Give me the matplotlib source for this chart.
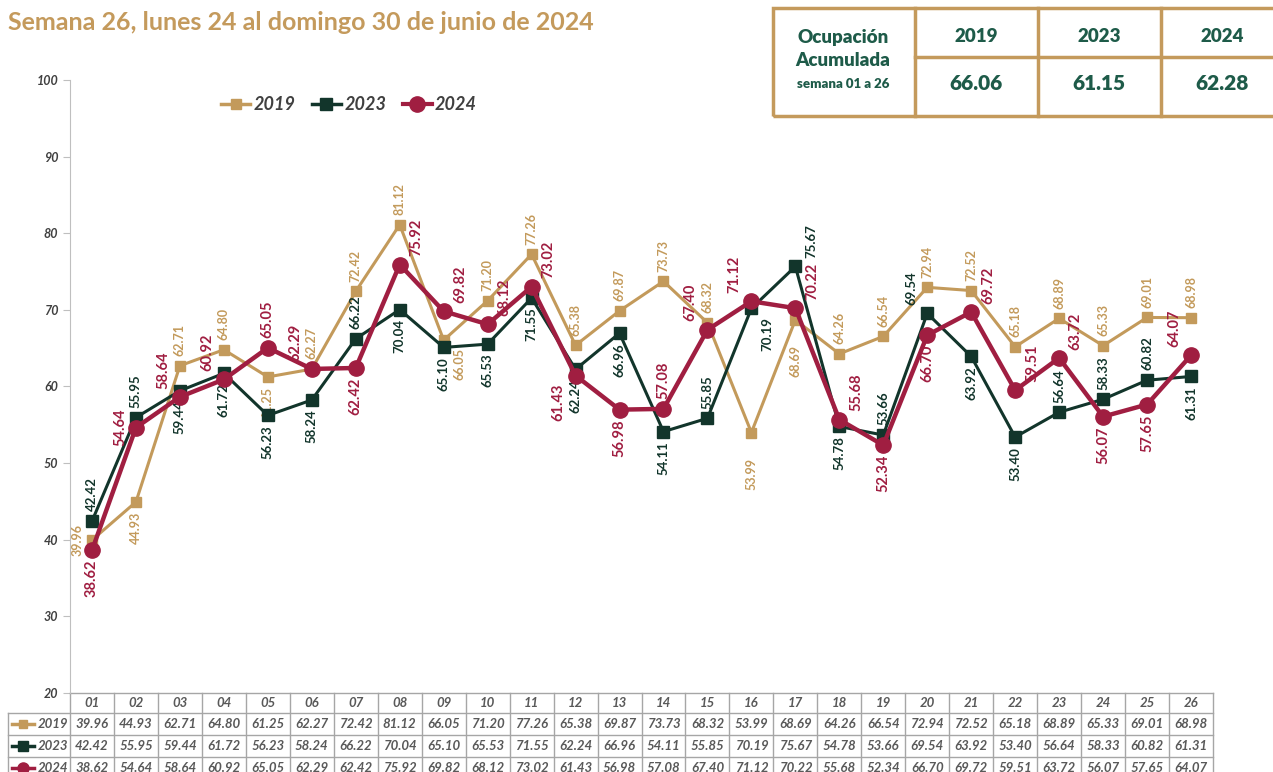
import numpy as np
import matplotlib.pyplot as plt
from matplotlib.lines import Line2D
from matplotlib.patches import Rectangle

plt.rcParams['font.family'] = ['Lato', 'DejaVu Sans']

# datos
semanas = ['01', '02', '03', '04', '05', '06', '07', '08', '09', '10', '11', '12', '13',
           '14', '15', '16', '17', '18', '19', '20', '21', '22', '23', '24', '25', '26']
ocup_2019 = [39.96, 44.93, 62.71, 64.80, 61.25, 62.27, 72.42, 81.12, 66.05, 71.20, 77.26, 65.38, 69.87,
             73.73, 68.32, 53.99, 68.69, 64.26, 66.54, 72.94, 72.52, 65.18, 68.89, 65.33, 69.01, 68.98]
ocup_2023 = [42.42, 55.95, 59.44, 61.72, 56.23, 58.24, 66.22, 70.04, 65.10, 65.53, 71.55, 62.24, 66.96,
             54.11, 55.85, 70.19, 75.67, 54.78, 53.66, 69.54, 63.92, 53.40, 56.64, 58.33, 60.82, 61.31]
ocup_2024 = [38.62, 54.64, 58.64, 60.92, 65.05, 62.29, 62.42, 75.92, 69.82, 68.12, 73.02, 61.43, 56.98,
             57.08, 67.40, 71.12, 70.22, 55.68, 52.34, 66.70, 69.72, 59.51, 63.72, 56.07, 57.65, 64.07]
anios = ['2019', '2023', '2024']
acumulada = ['66.06', '61.15', '62.28']

# posicion de etiquetas (a=arriba, b=abajo, l=izq, r=der, combinaciones)
pos_2019 = ['l', 'b', 'a', 'a', 'b', 'a', 'a', 'a', 'br', 'a', 'a', 'a', 'a',
            'a', 'a', 'bb', 'bb', 'a', 'a', 'a', 'a', 'a', 'a', 'a', 'a', 'a']
pos_2023 = ['a', 'a', 'b', 'b', 'b', 'b', 'a', 'b', 'b', 'b', 'b', 'b', 'b',
            'b', 'a', 'br', 'ar', 'b', 'a', 'al', 'b', 'b', 'a', 'a', 'a', 'b']
pos_2024 = ['b', 'l', 'al', 'al', 'a', 'al', 'b', 'ar', 'ar', 'ar', 'ar', 'bl', 'b',
            'a', 'al', 'al', 'ar', 'ar', 'b', 'b', 'ar', 'ar', 'ar', 'b', 'b', 'al']

c2019 = '#C39A5B'
c2023 = '#12352B'
c2024 = '#A01E41'
gris = '#595959'
tan = '#C49A5C'
verde = '#1E5B49'

offs = {'a': (0, 7, 'center', 'bottom'), 'b': (0, -7, 'center', 'top'),
        'bb': (0, -18, 'center', 'top'),
        'l': (-6, 0, 'right', 'center'), 'r': (6, 0, 'left', 'center'),
        'ar': (7, 6, 'left', 'bottom'), 'al': (-7, 6, 'right', 'bottom'),
        'br': (7, -6, 'left', 'top'), 'bl': (-7, -6, 'right', 'top')}

fig = plt.figure(figsize=(12.73, 7.72), dpi=100)
ax = fig.add_axes([70 / 1273, 1 - 693 / 772, 1143 / 1273, 613 / 772])

x = np.arange(len(semanas))
series = [(ocup_2019, pos_2019, c2019, 's', 7.5, 2.2, 9),
          (ocup_2023, pos_2023, c2023, 's', 8.5, 2.2, 9.5),
          (ocup_2024, pos_2024, c2024, 'o', 11, 3.2, 10.5)]
for vals, pos, col, mk, ms, lw, fs in series:
    ax.plot(x, vals, color=col, marker=mk, markersize=ms, linewidth=lw, zorder=3)
    for xi, v, p in zip(x, vals, pos):
        dx, dy, ha, va = offs[p]
        ax.annotate(f'{v:.2f}', (xi, v), xytext=(dx, dy), textcoords='offset points',
                    rotation=90, ha=ha, va=va, color=col, fontsize=fs, fontweight='bold')

ax.set_xlim(-0.5, len(semanas) - 0.5)
ax.set_ylim(20, 100)
ax.set_yticks(range(20, 101, 10))
ax.set_xticks([])
for s in ['top', 'right', 'bottom']:
    ax.spines[s].set_visible(False)
ax.spines['left'].set_color('#BFBFBF')
ax.tick_params(axis='y', colors='#BFBFBF', length=5, labelcolor='#404040', labelsize=9)
for t in ax.get_yticklabels():
    t.set_fontweight('bold')
    t.set_fontstyle('italic')

# leyenda
handles = [Line2D([], [], color=c2019, marker='s', markersize=7, lw=2.5),
           Line2D([], [], color=c2023, marker='s', markersize=8, lw=2.5),
           Line2D([], [], color=c2024, marker='o', markersize=11, lw=3)]
leg = ax.legend(handles, anios, loc='upper left', bbox_to_anchor=(0.118, 1.0), ncol=3, frameon=False,
                handlelength=1.6, handletextpad=0.2, columnspacing=0.9,
                prop={'size': 13, 'weight': 'bold', 'style': 'italic'})
for t in leg.get_texts():
    t.set_color('#404040')

# tabla inferior
tr = ax.get_xaxis_transform()
h0 = 20 / 613
h = 22 / 613
borde = '#A6A6A6'
x_lab = -0.5 - 62 / 43.96
lineas_y = [0, -h0, -h0 - h, -h0 - 2 * h, -h0 - 3 * h]
for k, y in enumerate(lineas_y):
    x0 = -0.5 if k == 0 else x_lab
    ax.add_line(Line2D([x0, len(semanas) - 0.5], [y, y], transform=tr, color=borde, lw=1, clip_on=False))
ax.add_line(Line2D([x_lab, x_lab], [-h0, lineas_y[-1]], transform=tr, color=borde, lw=1, clip_on=False))
for i in range(len(semanas) + 1):
    ax.add_line(Line2D([i - 0.5, i - 0.5], [0, lineas_y[-1]], transform=tr, color=borde, lw=1,
                       clip_on=False))
for i, s in enumerate(semanas):
    ax.text(i, -0.5 * h0, s, transform=tr, ha='center', va='center', fontsize=9.5,
            style='italic', fontweight='bold', color=gris, clip_on=False)
filas = [(ocup_2019, c2019, 's', 6), (ocup_2023, c2023, 's', 7), (ocup_2024, c2024, 'o', 8)]
for r, (vals, col, mk, ms) in enumerate(filas):
    yc = -h0 - (r + 0.5) * h
    for i, v in enumerate(vals):
        ax.text(i, yc, f'{v:.2f}', transform=tr, ha='center', va='center', fontsize=9.5,
                style='italic', fontweight='bold', color=gris, clip_on=False)
    ax.add_line(Line2D([x_lab + 0.1, x_lab + 0.6], [yc, yc], transform=tr, color=col, lw=2.5,
                       clip_on=False))
    ax.add_line(Line2D([x_lab + 0.35], [yc], transform=tr, color=col, marker=mk, markersize=ms,
                       clip_on=False))
    ax.text(-0.53, yc, anios[r], transform=tr, ha='right', va='center', fontsize=9.5,
            style='italic', fontweight='bold', color=gris, clip_on=False)

# titulo
fig.text(8 / 1273, 1 - 22 / 772, 'Semana 26, lunes 24 al domingo 30 de junio de 2024',
         ha='left', va='center', fontsize=18, fontweight='bold', color=tan)

# cuadro de ocupacion acumulada
def fx(px):
    return px / 1273

def fy(py):
    return 1 - py / 772

fig.add_artist(Rectangle((fx(773), fy(116)), fx(520), fy(8) - fy(116), fill=False,
                         edgecolor=tan, lw=2.5, transform=fig.transFigure, clip_on=False))
for xv in [915, 1038, 1161]:
    fig.add_artist(Line2D([fx(xv), fx(xv)], [fy(8), fy(116)], color=tan, lw=2.5,
                          transform=fig.transFigure))
fig.add_artist(Line2D([fx(915), 1], [fy(57), fy(57)], color=tan, lw=2.5, transform=fig.transFigure))
fig.text(fx(843), fy(37), 'Ocupación', ha='center', va='center', fontsize=13.5, fontweight='heavy', color=verde)
fig.text(fx(843), fy(61), 'Acumulada', ha='center', va='center', fontsize=13.5, fontweight='heavy', color=verde)
fig.text(fx(843), fy(84), 'semana 01 a 26', ha='center', va='center', fontsize=9.5, fontweight='heavy', color=verde)
for xc, a, v in zip([976, 1099, 1222], anios, acumulada):
    fig.text(fx(xc), fy(37), a, ha='center', va='center', fontsize=13.5, fontweight='heavy', color=verde)
    fig.text(fx(xc), fy(84), v, ha='center', va='center', fontsize=15, fontweight='heavy', color=verde)

plt.savefig('out.png', dpi=100)
